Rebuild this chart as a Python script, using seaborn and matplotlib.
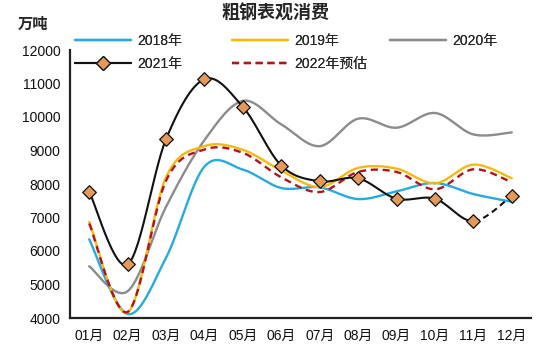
import numpy as np
import pandas as pd
import matplotlib
matplotlib.use("Agg")
import matplotlib.pyplot as plt
import seaborn as sns
from matplotlib.lines import Line2D
from matplotlib.ticker import FixedLocator

sns.set_style("white")
plt.rcParams['font.family'] = ['Liberation Sans', 'Noto Sans CJK SC', 'DejaVu Sans']

months = ["01月", "02月", "03月", "04月", "05月", "06月", "07月", "08月", "09月", "10月", "11月", "12月"]
y2018 = [6350, 4120, 5800, 8520, 8430, 7880, 7900, 7550, 7780, 8030, 7700, 7470]
y2019 = [6870, 4170, 8200, 9130, 9020, 8400, 7910, 8480, 8460, 8020, 8580, 8170]
y2020 = [5545, 4800, 7320, 9310, 10480, 9780, 9130, 9950, 9680, 10120, 9480, 9540]
y2021 = [7770, 5600, 9340, 11130, 10300, 8550, 8080, 8170, 7560, 7560, 6890, 7650]
y2022 = [6820, 4180, 8100, 9030, 8930, 8200, 7760, 8360, 8360, 7840, 8440, 8050]
ylabel_unit = "万吨"
title = "粗钢表观消费"
names = ["2018年", "2019年", "2020年", "2021年", "2022年预估"]

colors = {"2018年": "#26AAE2", "2019年": "#F8B90F", "2020年": "#8C8C8C",
          "2021年": "#111111", "2022年预估": "#B5121B"}


def smooth(vals, n=30):
    """Excel-style smoothed line (Catmull-Rom Bezier through the points)."""
    p = np.asarray(vals, dtype=float)
    x = np.arange(len(p), dtype=float)
    pts = np.column_stack([x, p])
    ext = np.vstack([pts[0], pts, pts[-1]])
    out = []
    t = np.linspace(0, 1, n)[:, None]
    for i in range(len(pts) - 1):
        p0, p1, p2, p3 = ext[i], ext[i + 1], ext[i + 2], ext[i + 3]
        c1 = p1 + (p2 - p0) / 6.0
        c2 = p2 - (p3 - p1) / 6.0
        seg = ((1 - t) ** 3) * p1 + 3 * ((1 - t) ** 2) * t * c1 + 3 * (1 - t) * t ** 2 * c2 + t ** 3 * p2
        out.append(seg if i == 0 else seg[1:])
    s = np.vstack(out)
    return s[:, 0], s[:, 1]


fig = plt.figure(figsize=(5.5, 3.51), dpi=100)
ax = fig.add_axes([70 / 550, 1 - 318 / 351, 461 / 550, (318 - 50) / 351])

lw = 1.7
for name, vals, ls in [("2020年", y2020, "-"), ("2018年", y2018, "-"),
                       ("2019年", y2019, "-"), ("2022年预估", y2022, (0, (3, 2)))]:
    sx, sy = smooth(vals)
    df = pd.DataFrame({"x": sx, "y": sy})
    sns.lineplot(data=df, x="x", y="y", ax=ax, color=colors[name], lw=lw,
                 linestyle=ls, sort=False, estimator=None)

sx, sy = smooth(y2021)
solid = sx <= 10
dashed = sx >= 10
sns.lineplot(x=sx[solid], y=sy[solid], ax=ax, color=colors["2021年"], lw=1.5,
             sort=False, estimator=None)
sns.lineplot(x=sx[dashed], y=sy[dashed], ax=ax, color=colors["2021年"], lw=1.5,
             linestyle=(0, (3, 2)), sort=False, estimator=None)
sns.scatterplot(x=np.arange(len(y2021)), y=y2021, ax=ax, marker="D", s=48,
                color="#E4985A", edgecolor="#111111", linewidth=0.9, zorder=5)

ax.set_xlim(-0.5, 11.5)
ax.set_ylim(4000, 12000)
ax.set_xticks(range(12))
ax.set_xticklabels(months)
ax.xaxis.set_minor_locator(FixedLocator(np.arange(-0.5, 12, 1)))
ax.set_yticks(range(4000, 12001, 1000))
ax.tick_params(axis="x", which="major", length=0, labelsize=10, pad=8, colors="#111111")
ax.tick_params(axis="x", which="minor", length=4, width=1.2, direction="in", color="#222222")
ax.tick_params(axis="y", length=4, width=1.2, direction="in", labelsize=10, pad=7,
               colors="#222222")
for lab in ax.get_yticklabels():
    lab.set_color("#111111")
ax.set_xlabel("")
ax.set_ylabel("")
for side in ["top", "right"]:
    ax.spines[side].set_visible(False)
for side in ["left", "bottom"]:
    ax.spines[side].set_color("#222222")
    ax.spines[side].set_linewidth(1.6)

fig.text(0.5, 1 - 14 / 351, title, ha="center", va="center", fontsize=13, fontweight="bold")
fig.text(33 / 550, 1 - 25 / 351, ylabel_unit, ha="center", va="center", fontsize=11,
         fontweight="bold")

def handle(name):
    if name == "2021年":
        return Line2D([], [], color=colors[name], lw=1.5, marker="D", markersize=7,
                      markerfacecolor="#E4985A", markeredgecolor="#111111", markeredgewidth=0.9)
    if name == "2022年预估":
        return Line2D([], [], color=colors[name], lw=lw, linestyle=(0, (3, 2)))
    return Line2D([], [], color=colors[name], lw=lw)

cols = [(["2018年", "2021年"], 75), (["2019年", "2022年预估"], 232), (["2020年"], 390)]
for labels, xpx in cols:
    leg = fig.legend([handle(n) for n in labels], labels, loc="upper left",
                     bbox_to_anchor=(xpx / 550, 1 - 34 / 351), frameon=False, fontsize=10,
                     handlelength=4.0, handletextpad=0.5, borderpad=0, borderaxespad=0,
                     labelspacing=0.65)
    fig.add_artist(leg)

fig.savefig("out.png", dpi=100)
